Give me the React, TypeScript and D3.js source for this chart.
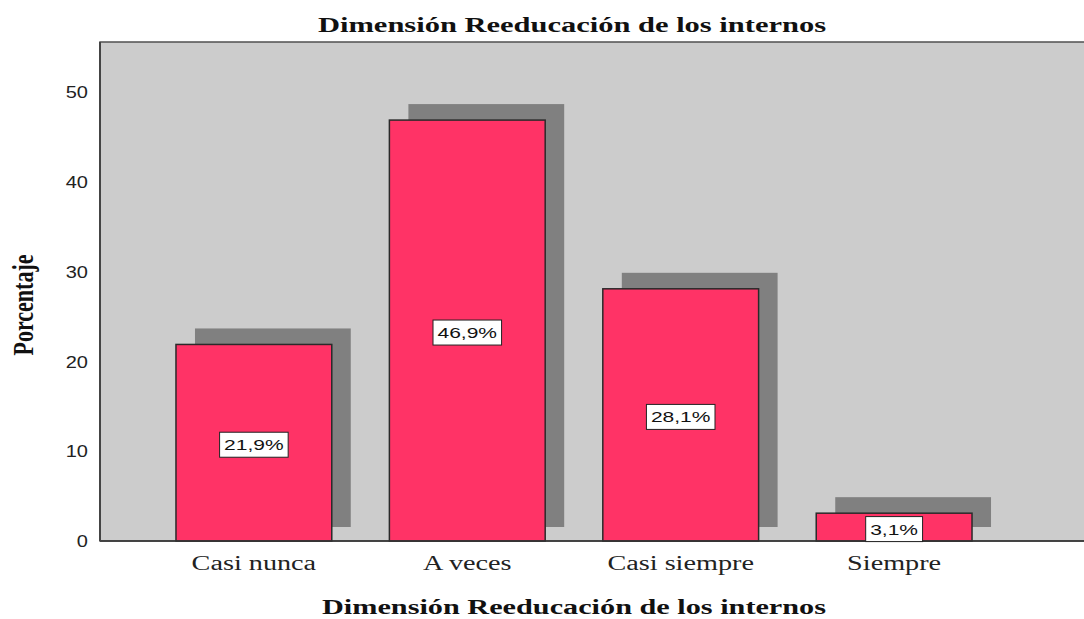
import React, { useEffect, useRef } from "react";
import * as d3 from "d3";

const categories = ["Casi nunca", "A veces", "Casi siempre", "Siempre"];
const percentages = [21.9, 46.9, 28.1, 3.1];
const valueLabels = ["21,9%", "46,9%", "28,1%", "3,1%"];
const yTicks = [0, 10, 20, 30, 40, 50];
const titleText = "Dimensión Reeducación de los internos";
const xAxisTitle = "Dimensión Reeducación de los internos";
const yAxisTitle = "Porcentaje";

const W = 1084;
const H = 619;

export default function App() {
  const ref = useRef<SVGSVGElement | null>(null);

  useEffect(() => {
    const svg = d3.select(ref.current);
    svg.selectAll("*").remove();

    const left = 100, top = 42, bottom = 541;
    const x = d3.scaleBand<string>().domain(categories).range([100, 1048]).paddingInner(0.27).paddingOuter(0.356);
    const y = d3.scaleLinear().domain([0, 55.6]).range([bottom, top]);

    const fit = (sel: any, factor: number, target?: number) => {
      sel.each(function (this: SVGTextElement) {
        const w = this.getComputedTextLength();
        const tw = target ?? w * factor;
        d3.select(this).attr("textLength", tw).attr("lengthAdjust", "spacingAndGlyphs");
      });
    };

    // plot background
    svg.append("rect").attr("x", left).attr("y", top).attr("width", W - left + 5).attr("height", bottom - top)
      .attr("fill", "#cccccc").attr("stroke", "#505050").attr("stroke-width", 1.5);

    const g = svg.append("g");
    // shadows
    g.selectAll("rect.shadow").data(categories).enter().append("rect")
      .attr("x", (d) => (x(d) as number) + 19)
      .attr("y", (d, i) => y(percentages[i]) - 16)
      .attr("width", x.bandwidth())
      .attr("height", (d, i) => y(0) - 14 - (y(percentages[i]) - 16))
      .attr("fill", "#808080");
    // bars
    g.selectAll("rect.bar").data(categories).enter().append("rect")
      .attr("x", (d) => x(d) as number)
      .attr("y", (d, i) => y(percentages[i]))
      .attr("width", x.bandwidth())
      .attr("height", (d, i) => y(0) - y(percentages[i]))
      .attr("fill", "#ff3366").attr("stroke", "#2a2a2a").attr("stroke-width", 1.5);

    // axis lines
    svg.append("line").attr("x1", left).attr("x2", W).attr("y1", bottom).attr("y2", bottom).attr("stroke", "#333").attr("stroke-width", 1.5);
    svg.append("line").attr("x1", left).attr("x2", left).attr("y1", top).attr("y2", bottom).attr("stroke", "#444").attr("stroke-width", 2);

    // bar labels
    categories.forEach((c, i) => {
      const cx = (x(c) as number) + x.bandwidth() / 2;
      const cy = (y(0) + y(percentages[i])) / 2 + 2;
      const lg = svg.append("g");
      const r = lg.append("rect");
      const t = lg.append("text").attr("x", cx).attr("y", cy + 5.5).attr("text-anchor", "middle")
        .attr("font-family", "Liberation Sans, Arial, sans-serif").attr("font-size", 15).attr("fill", "#111")
        .text(valueLabels[i]);
      const natural = (t.node() as SVGTextElement).getComputedTextLength();
      const tw = natural * 1.4;
      t.attr("textLength", tw).attr("lengthAdjust", "spacingAndGlyphs");
      r.attr("x", cx - tw / 2 - 4.5).attr("y", cy - 12.5).attr("width", tw + 9).attr("height", 25)
        .attr("fill", "#ffffff").attr("stroke", "#222").attr("stroke-width", 1);
    });

    // y tick labels
    const tk = svg.append("g").selectAll("text").data(yTicks).enter().append("text")
      .attr("x", 88).attr("y", (d) => y(d) + 6).attr("text-anchor", "end")
      .attr("font-family", "Liberation Sans, Arial, sans-serif").attr("font-size", 16).attr("fill", "#222")
      .text((d) => String(d));
    fit(tk, 1.25);

    // category labels
    const cl = svg.append("g").selectAll("text").data(categories).enter().append("text")
      .attr("x", (d) => (x(d) as number) + x.bandwidth() / 2).attr("y", 570).attr("text-anchor", "middle")
      .attr("font-family", "Liberation Serif, Times New Roman, serif").attr("font-size", 20).attr("fill", "#222")
      .text((d) => d);
    fit(cl, 1.41);

    // title
    const tt = svg.append("text").attr("x", 572).attr("y", 32).attr("text-anchor", "middle")
      .attr("font-family", "Liberation Serif, Times New Roman, serif").attr("font-weight", "bold").attr("font-size", 20)
      .attr("fill", "#111").text(titleText);
    fit(tt, 1, 508);

    const xt = svg.append("text").attr("x", 574).attr("y", 614).attr("text-anchor", "middle")
      .attr("font-family", "Liberation Serif, Times New Roman, serif").attr("font-weight", "bold").attr("font-size", 20)
      .attr("fill", "#111").text(xAxisTitle);
    fit(xt, 1, 504);

    svg.append("text").attr("transform", "translate(33,305) scale(1.3,1) rotate(-90)").attr("text-anchor", "middle")
      .attr("font-family", "Liberation Serif, Times New Roman, serif").attr("font-weight", "bold").attr("font-size", 22)
      .attr("fill", "#111").text(yAxisTitle);
  }, []);

  return (
    <svg ref={ref} width={W} height={H} style={{ position: "absolute", left: 0, top: 0, background: "#ffffff" }} />
  );
}
